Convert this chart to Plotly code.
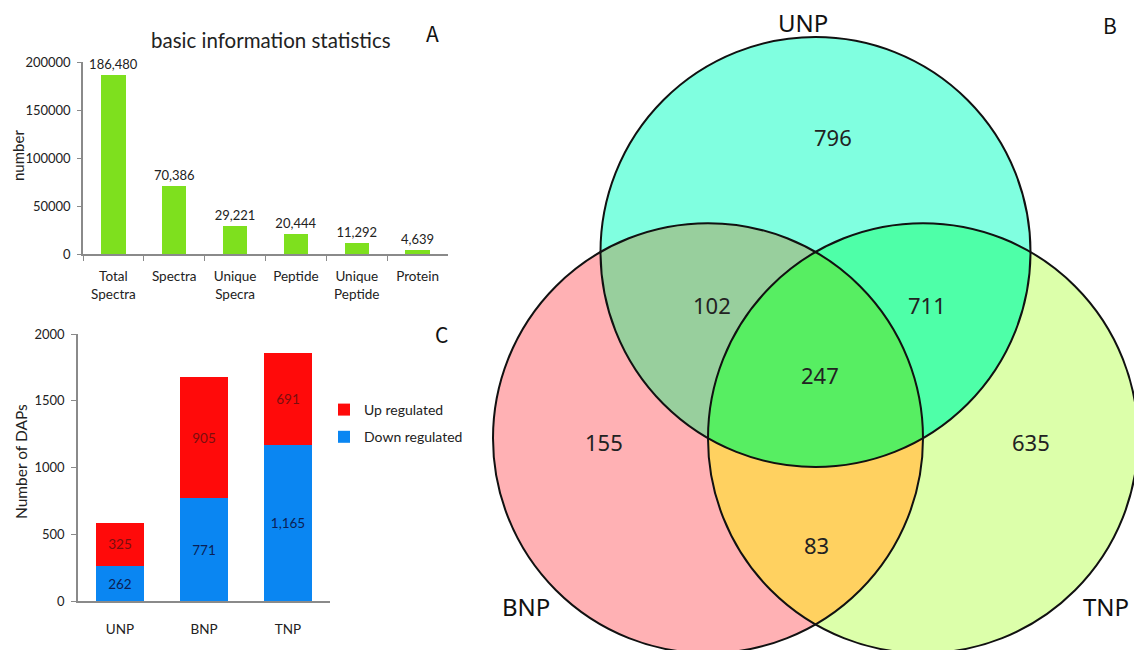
import numpy as np
import plotly.graph_objects as go

# ---------------- data ----------------
stat_categories = ["Total<br>Spectra", "Spectra", "Unique<br>Specra", "Peptide", "Unique<br>Peptide", "Protein"]
stat_values = [186480, 70386, 29221, 20444, 11292, 4639]

dap_groups = ["UNP", "BNP", "TNP"]
dap_up = [325, 905, 691]
dap_down = [262, 771, 1165]

venn_sets = ["UNP", "BNP", "TNP"]
venn_regions = ["UNP", "BNP", "TNP", "UNP&BNP", "UNP&TNP", "BNP&TNP", "UNP&BNP&TNP"]
venn_counts = [796, 155, 635, 102, 711, 83, 247]

# ---------------- layout helpers ----------------
W, H = 1134, 650
def px(x):
    return x / W
def py(y):
    return 1 - y / H

FONT = "Lato"
VFONT = "Noto Sans"

fig = go.Figure()

# Panel A
fig.add_trace(go.Bar(
    x=stat_categories, y=stat_values, width=0.4,
    marker=dict(color="#7EE01E", line=dict(width=0)),
    texttemplate="%{y:,}", textposition="outside", constraintext="none",
    textfont=dict(size=13, color="#222", family=FONT),
    cliponaxis=False, showlegend=False, xaxis="x", yaxis="y"))

# Panel C (down first so it stacks at the bottom)
fig.add_trace(go.Bar(
    x=dap_groups, y=dap_down, width=0.57, name="Down regulated",
    legendgroup="down", legendrank=2,
    marker=dict(color="#0A86F2", line=dict(width=0)),
    texttemplate="%{y:,}", textposition="inside", insidetextanchor="middle",
    constraintext="none",
    textfont=dict(size=13.5, color="#0B1F55", family=FONT),
    xaxis="x2", yaxis="y2"))
fig.add_trace(go.Bar(
    x=dap_groups, y=dap_up, width=0.57, name="Up regulated",
    legendgroup="up", legendrank=1,
    marker=dict(color="#FF0A0A", line=dict(width=0)),
    texttemplate="%{y:,}", textposition="inside", insidetextanchor="middle",
    constraintext="none",
    textfont=dict(size=13.5, color="#7A0E0E", family=FONT),
    xaxis="x2", yaxis="y2"))

# Panel B: Venn geometry (layout, in pixel units of the venn axes)
R = 215.0
cx_top, cy_top = 815.5, 252.0
h = R * np.sqrt(3) / 2
centers = {
    "UNP": (cx_top, cy_top),
    "BNP": (cx_top - R / 2, cy_top + h),
    "TNP": (cx_top + R / 2, cy_top + h),
}
region_colors = {
    "UNP": "#80FFE0",
    "BNP": "#FFB1B4",
    "TNP": "#DCFFAA",
    "UNP&BNP": "#98CF9D",
    "UNP&TNP": "#4EFFA8",
    "BNP&TNP": "#FFD160",
    "UNP&BNP&TNP": "#57EE62",
}

def intersection_polygon(names):
    pts = []
    th = np.linspace(0, 2 * np.pi, 1441)
    for n in names:
        cx, cy = centers[n]
        xs = cx + R * np.cos(th)
        ys = cy + R * np.sin(th)
        keep = np.ones_like(xs, dtype=bool)
        for m in names:
            if m == n:
                continue
            mx, my = centers[m]
            keep &= (xs - mx) ** 2 + (ys - my) ** 2 <= R ** 2 + 1e-6
        pts.append(np.column_stack([xs[keep], ys[keep]]))
    pts = np.vstack(pts)
    c = pts.mean(axis=0)
    ang = np.arctan2(pts[:, 1] - c[1], pts[:, 0] - c[0])
    pts = pts[np.argsort(ang)]
    return pts[:, 0], pts[:, 1]

for reg in venn_regions:
    names = reg.split("&")
    xs, ys = intersection_polygon(names)
    fig.add_trace(go.Scatter(
        x=np.append(xs, xs[0]), y=np.append(ys, ys[0]), mode="lines",
        fill="toself", fillcolor=region_colors[reg], line=dict(width=0),
        hoverinfo="skip", showlegend=False, xaxis="x3", yaxis="y3"))

shapes = []
for n in venn_sets:
    cx, cy = centers[n]
    shapes.append(dict(type="circle", xref="x3", yref="y3",
                       x0=cx - R, x1=cx + R, y0=cy - R, y1=cy + R,
                       line=dict(color="#111", width=2)))

# region label positions (layout)
region_label_pos = {
    "UNP": (833, 137), "BNP": (604, 442), "TNP": (1031, 442),
    "UNP&BNP": (712, 305), "UNP&TNP": (927, 305), "BNP&TNP": (816, 545),
    "UNP&BNP&TNP": (820, 375),
}
set_label_pos = {"UNP": (803, 22), "BNP": (526, 606), "TNP": (1106, 606)}

annotations = []
for reg, cnt in zip(venn_regions, venn_counts):
    x, y = region_label_pos[reg]
    annotations.append(dict(x=x, y=y, xref="x3", yref="y3", text=str(cnt), showarrow=False,
                            xanchor="center", yanchor="middle",
                            font=dict(family=VFONT, size=22, color="#222")))
for s in venn_sets:
    x, y = set_label_pos[s]
    annotations.append(dict(x=x, y=y, xref="x3", yref="y3", text=s, showarrow=False,
                            xanchor="center", yanchor="middle",
                            font=dict(family=VFONT, size=24, color="#111")))

def pann(x, y, text, size, family=FONT, angle=0, color="#222"):
    return dict(x=px(x), y=py(y), xref="paper", yref="paper", text=text, textangle=angle,
                showarrow=False, xanchor="center", yanchor="middle",
                font=dict(family=family, size=size, color=color))

annotations += [
    pann(271, 40, "basic information statistics", 20.5),
    pann(432, 33, "A", 21, "Noto Sans CJK SC", color="#111"),
    pann(1110, 25, "B", 21, "Noto Sans CJK SC", color="#111"),
    pann(441, 334, "C", 21, "Noto Sans CJK SC", color="#111"),
    pann(18, 156, "number", 15, angle=-90),
    pann(21, 462, "Number of DAPs", 15.5, angle=-90),
]

axis_line = "#8A8A8A"
fig.update_layout(
    width=W, height=H, margin=dict(l=0, r=0, t=0, b=0, pad=0, autoexpand=False),
    paper_bgcolor="white", plot_bgcolor="rgba(0,0,0,0)",
    barmode="stack",
    font=dict(family=FONT, color="#222"),
    xaxis=dict(domain=[px(83), px(448)], anchor="y", showline=True, linecolor=axis_line,
               linewidth=1.5, ticks="outside", tickson="boundaries", ticklen=5,
               tickcolor=axis_line, tickfont=dict(size=13.5, color="#222"),
               ticklabelstandoff=9, showgrid=False, zeroline=False, automargin=False),
    yaxis=dict(domain=[py(254), py(62)], anchor="x", range=[0, 200000],
               tickvals=[0, 50000, 100000, 150000, 200000], tickformat="d",
               showline=True, linecolor=axis_line, linewidth=1.5, ticks="outside",
               ticklen=4, tickcolor=axis_line, tickfont=dict(size=13, color="#222"),
               ticklabelstandoff=4, showgrid=False, zeroline=False, automargin=False),
    xaxis2=dict(domain=[px(78), px(330)], anchor="y2", showline=True, linecolor=axis_line,
                linewidth=1.5, ticks="", tickfont=dict(size=13.5, color="#222"),
                ticklabelstandoff=15, showgrid=False, zeroline=False, automargin=False),
    yaxis2=dict(domain=[py(601), py(334)], anchor="x2", range=[0, 2000],
                tickvals=[0, 500, 1000, 1500, 2000], showline=True, linecolor=axis_line,
                linewidth=1.5, ticks="outside", ticklen=5, tickcolor=axis_line,
                tickfont=dict(size=13, color="#222"), ticklabelstandoff=4,
                showgrid=False, zeroline=False, automargin=False),
    xaxis3=dict(domain=[px(458), 1.0], anchor="y3", range=[458, 1134], visible=False,
                automargin=False),
    yaxis3=dict(domain=[0, 1], anchor="x3", range=[650, 0], visible=False, automargin=False),
    legend=dict(x=px(324), y=py(394), xanchor="left", yanchor="top",
                traceorder="grouped", tracegroupgap=6,
                font=dict(family=FONT, size=14, color="#222"),
                bgcolor="rgba(0,0,0,0)", itemwidth=30),
    shapes=shapes, annotations=annotations,
)

fig.write_html("out.html")
